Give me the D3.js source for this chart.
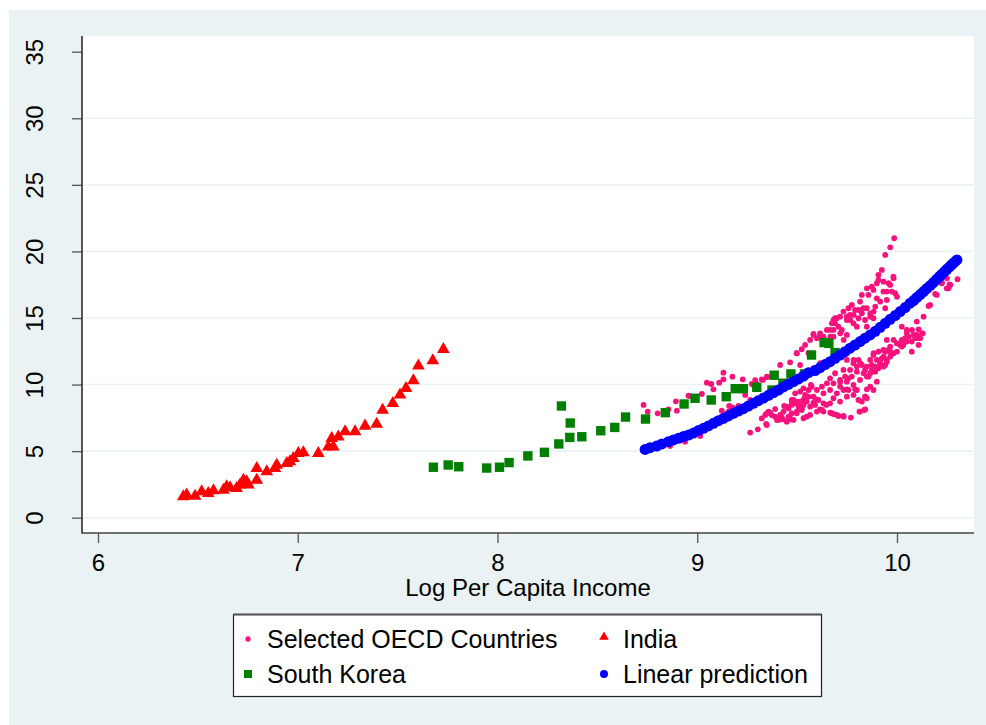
<!DOCTYPE html>
<html>
<head>
<meta charset="utf-8">
<script src="https://cdn.jsdelivr.net/npm/d3@7"></script>
<style>
  body { margin: 0; background: #ffffff; }
  text { font-family: "Liberation Sans", Arial, sans-serif; fill: #000; }
</style>
</head>
<body>
<div id="chart"></div>
<script>
////////////////////////////////////////////////////////////
//////////////////////// Data //////////////////////////////
////////////////////////////////////////////////////////////
var xTicks = [6, 7, 8, 9, 10],
yTicks = [0, 5, 10, 15, 20, 25, 30, 35],
xTitle = "Log Per Capita Income";

var seriesNames = ["Selected OECD Countries", "India", "South Korea", "Linear prediction"];

// [log per capita income, value]
var oecd = [
[8.731,8.47],[8.752,7.96],[8.802,7.84],[8.856,8.14],[8.893,8.74],[8.898,8.04],[8.956,9.17],[8.961,9.14],
[9.023,9.29],[9.048,10.14],[9.070,10.04],[9.081,9.64],[9.110,10.14],[9.131,10.89],[9.131,10.39],[9.176,10.59],
[9.228,10.39],[9.282,9.97],[9.298,10.05],[9.328,10.35],[9.349,10.60],[9.160,8.39],[9.176,8.29],[9.206,8.39],
[9.123,8.04],[9.165,7.64],[9.135,7.72],[9.157,7.97],[9.240,9.22],[9.265,8.84],[9.273,10.04],[9.290,10.34],
[9.323,10.39],[9.348,10.54],[9.373,10.59],[9.415,11.47],[9.465,11.67],[9.498,12.35],[9.515,11.47],[9.523,12.65],
[9.557,12.35],[8.864,5.39],[8.873,5.64],[8.939,5.71],[9.015,6.14],[9.265,6.39],[9.303,6.64],[9.348,6.96],
[9.345,7.04],[9.390,8.16],[9.423,7.54],[9.407,7.34],[9.448,7.21],[9.465,7.46],[9.490,8.59],[9.507,8.34],
[9.523,8.09],[9.540,9.09],[9.498,7.84],[9.548,7.59],[9.435,8.39],[9.473,8.84],[9.532,9.72],[9.373,7.71],
[9.357,7.96],[9.340,7.72],[9.365,7.89],[9.399,7.34],[9.415,7.72],[9.429,7.39],[9.449,8.34],[9.457,7.59],
[9.474,8.64],[9.482,7.34],[9.499,8.72],[9.512,8.34],[9.524,8.22],[9.532,8.84],[9.540,9.22],[9.557,9.09],
[9.515,9.47],[9.569,9.97],[9.582,8.64],[9.595,8.89],[9.615,8.14],[9.632,7.97],[9.646,8.47],[9.666,7.89],
[9.682,7.79],[9.707,7.64],[9.733,7.59],[9.769,7.52],[9.812,7.97],[9.841,8.14],[9.824,8.72],[9.841,9.09],
[9.849,9.64],[9.749,9.64],[9.791,9.64],[9.716,10.22],[9.757,10.47],[9.799,10.97],[9.833,10.85],[9.858,10.60],
[9.874,11.10],[9.891,11.35],[9.916,11.60],[9.933,12.10],[9.949,11.85],[9.966,12.47],[9.983,12.35],[10.000,12.47],
[10.016,12.97],[10.024,13.35],[10.049,13.85],[10.041,13.48],[10.075,14.10],[10.083,13.73],[10.108,13.48],[10.125,13.85],
[10.133,15.10],[10.166,15.98],[10.191,16.81],[10.225,17.66],[10.250,17.98],[10.267,17.48],[10.303,17.91],[10.241,18.24],
[10.258,17.23],[9.515,10.47],[9.548,10.85],[9.582,11.22],[9.615,11.60],[9.582,13.73],[9.615,13.60],[9.682,14.85],
[9.699,14.98],[9.690,14.60],[9.749,15.10],[9.766,14.85],[9.783,15.23],[9.808,15.60],[9.824,15.35],[9.849,15.73],
[9.866,15.10],[9.849,17.23],[9.874,17.36],[9.907,17.86],[9.924,18.61],[9.941,19.74],[9.966,20.31],[9.986,20.99],
[9.933,17.73],[9.958,17.61],[9.983,17.98],[9.974,16.98],[9.991,16.86],[9.949,16.98],[9.916,16.23],[9.891,15.86],
[9.899,16.48],[9.941,15.73],[9.883,15.48],[9.682,14.10],[9.716,13.85],[9.666,13.60],[9.733,13.35],[9.749,11.85],
[9.783,11.85],[9.816,11.60],[9.849,11.35],[9.799,11.35],[9.883,12.35],[9.899,11.85],[9.949,13.35],[9.966,12.85],
[9.941,12.47],[9.983,13.35],[10.000,13.10],[9.933,11.35],[9.907,18.23],[9.982,18.11],[9.966,17.48],[10.000,16.60],
[9.857,16.73],[9.832,15.73],[9.866,15.35],[9.790,15.60],[9.765,15.23],[9.807,14.98],[9.749,14.85],[9.782,14.60],
[9.690,14.98],[9.707,14.35],[9.665,14.10],[9.674,14.60],[9.582,13.80],[9.599,13.48],[9.632,13.60],[9.498,12.35],
[10.049,14.10],[10.091,13.48],[10.116,13.48],[10.129,13.85],[10.099,14.73],[10.158,15.90],[10.199,16.73],[10.249,17.23],
[10.263,17.53],[10.224,17.61],[10.074,12.47],[10.032,12.97],[9.999,13.10],[9.957,12.60],[9.924,11.97],[9.941,11.47],
[9.874,11.47],[9.907,11.22],[9.840,11.10],[9.849,10.60],[9.815,10.35],[9.774,10.60],[9.782,9.97],[9.732,11.10],
[9.749,10.22],[9.715,9.85],[9.682,10.09],[9.699,9.34],[9.665,9.59],[9.632,9.34],[9.607,8.84],[9.582,9.09],
[9.557,9.59],[9.490,9.34],[9.482,8.84],[9.565,8.34],[9.632,8.59],[9.682,8.97],[9.732,9.59],[9.749,9.09],
[9.799,9.59],[9.866,9.84],[9.840,9.09],[9.836,8.09],[9.815,7.97],[9.674,7.84],[9.699,7.72],[9.732,7.64],
[9.624,8.09],[9.590,8.47],[9.465,7.39],[9.532,7.47],[10.024,12.85],[10.108,12.98],[10.108,14.15],
[10.024,14.35],[10.058,13.60],[10.074,13.23],[10.099,13.73],[10.049,13.23],[9.932,12.60],[9.966,12.10],[9.907,12.47],
[9.882,12.22],[9.866,11.85],[9.949,11.72],[9.916,11.47],[9.891,10.97],[9.866,10.85],[9.824,11.47],[9.807,11.85],
[9.782,11.60],[9.765,11.10],[9.740,10.60],[9.715,10.35],[9.690,10.85],[9.665,10.47],[9.649,10.09],[9.624,9.84],
[9.599,9.59],[9.573,9.84],[9.757,9.59],[9.782,9.22],[9.807,8.84],[9.849,8.97],[9.882,9.59],[9.899,10.22],
[9.665,8.59],[9.715,8.72],[9.599,7.97],[9.565,7.72],[9.498,7.97],[9.473,8.47],
[9.715,15.10],[9.732,15.48],[9.757,15.73],[9.774,15.98],[9.815,16.23],[9.824,16.73],[9.882,17.11],[9.899,17.61],
[9.932,16.98],[9.949,16.36],[9.649,14.10],[9.615,13.85],[9.565,13.35],[9.540,12.98],[9.682,13.60],[9.724,14.10],
[9.799,14.35],[9.840,14.85],[9.882,14.98],[9.849,14.35],[9.749,13.73],
[9.390,7.59],[9.432,7.96],[9.457,8.21],[9.473,7.84],[9.515,8.72],[9.532,8.47],[9.548,8.72],[9.323,7.46],[9.348,7.84]
];

var india = [
[6.427,1.58],[6.444,1.71],[6.486,1.63],[6.519,1.96],[6.552,1.83],[6.578,2.03],[6.628,2.08],[6.644,2.33],
[6.661,2.26],[6.694,2.21],[6.711,2.46],[6.728,2.83],[6.744,2.71],[6.753,2.46],[6.795,3.71],[6.795,2.83],
[6.845,3.46],[6.895,3.96],[6.886,3.71],[6.945,4.08],[6.961,4.21],[6.978,4.46],[7.003,4.84],[7.028,4.89],
[7.103,4.84],[7.153,5.33],[7.170,5.96],[7.178,5.33],[7.203,6.08],[7.237,6.46],[7.287,6.46],[7.337,6.89],
[7.395,7.04],[7.425,8.09],[7.476,8.59],[7.512,9.22],[7.542,9.72],[7.579,10.29],[7.604,11.40],[7.676,11.80],
[7.729,12.65]
];

var korea = [
[7.679,3.79],[7.753,3.96],[7.806,3.83],[7.946,3.73],[8.010,3.79],[8.058,4.14],[8.152,4.64],[8.235,4.91],
[8.307,5.54],[8.320,8.39],[8.364,7.11],[8.362,6.03],[8.422,6.08],[8.517,6.53],[8.587,6.78],[8.641,7.56],
[8.741,7.41],[8.840,7.89],[8.934,8.54],[8.989,8.97],[9.070,8.84],[9.145,9.09],[9.190,9.69],[9.231,9.69],
[9.298,9.79],[9.374,9.59],[9.385,10.70],[9.429,10.10],[9.469,10.80],[9.537,10.80],[9.572,12.22],[9.635,13.15],
[9.659,13.10],[9.690,12.40]
];

var prediction = [
[8.739,5.13],[8.764,5.26],[8.797,5.38],[8.823,5.54],[8.856,5.71],[8.881,5.84],[8.906,5.96],[8.931,6.09],
[8.956,6.21],[8.981,6.36],[9.006,6.54],[9.031,6.71],[9.056,6.89],[9.081,7.09],[9.106,7.29],[9.131,7.46],
[9.156,7.64],[9.181,7.84],[9.206,8.01],[9.231,8.19],[9.256,8.39],[9.281,8.59],[9.306,8.79],[9.332,8.99],
[9.357,9.19],[9.382,9.39],[9.407,9.59],[9.432,9.82],[9.457,10.02],[9.482,10.22],[9.507,10.42],[9.532,10.64],
[9.557,10.89],[9.590,11.05],[9.615,11.27],[9.640,11.50],[9.665,11.72],[9.690,11.97],[9.715,12.22],[9.740,12.47],
[9.765,12.73],[9.790,12.97],[9.815,13.23],[9.840,13.48],[9.866,13.73],[9.891,14.00],[9.916,14.30],[9.941,14.60],
[9.966,14.90],[9.991,15.18],[10.016,15.48],[10.041,15.78],[10.066,16.11],[10.083,16.31],[10.099,16.53],[10.116,16.76],
[10.133,16.98],[10.149,17.21],[10.166,17.43],[10.182,17.66],[10.199,17.91],[10.212,18.11],[10.224,18.28],[10.238,18.48],
[10.250,18.66],[10.263,18.84],[10.274,19.01],[10.288,19.19],[10.300,19.36]
];

////////////////////////////////////////////////////////////
//////////////////////// Setup /////////////////////////////
////////////////////////////////////////////////////////////
var W = 986, H = 725,
plot = {left: 82, top: 36, right: 974, bottom: 533};

var colors = {oecd: "#f7127c", india: "#ff0000", korea: "#007f00", pred: "#0000ff", bg: "#eaf2f3"};

var x = d3.scaleLinear().domain([6, 10]).range([98, 897]);
var y = d3.scaleLinear().domain([0, 35]).range([517.7, 51.7]);

var svg = d3.select("#chart").append("svg")
.attr("width", W)
.attr("height", H);

svg.append("rect")
.attr("x", 9).attr("y", 10)
.attr("width", W - 9).attr("height", H - 10)
.attr("fill", colors.bg);

svg.append("rect")
.attr("x", plot.left).attr("y", plot.top)
.attr("width", plot.right - plot.left).attr("height", plot.bottom - plot.top)
.attr("fill", "#fff");

// grid
svg.append("g").selectAll("line")
.data(yTicks.filter(function(d){ return d < 35; }))
.enter().append("line")
.attr("x1", plot.left).attr("x2", plot.right)
.attr("y1", function(d){ return y(d); })
.attr("y2", function(d){ return y(d); })
.attr("stroke", colors.bg)
.attr("stroke-width", 1.6);

////////////////////////////////////////////////////////////
//////////////////////// Axes //////////////////////////////
////////////////////////////////////////////////////////////
var yAxis = svg.append("g")
.attr("transform", "translate(" + plot.left + ",0)")
.call(d3.axisLeft(y).tickValues(yTicks).tickSize(10).tickSizeOuter(0));
yAxis.select(".domain").remove();
yAxis.selectAll(".tick line").attr("stroke", "#555").attr("stroke-width", 1.3);
yAxis.selectAll(".tick text")
.attr("transform", "rotate(-90)")
.attr("x", 0).attr("y", -39).attr("dy", 0)
.attr("text-anchor", "middle")
.style("font-size", "24px")
.style("font-family", "'Liberation Sans', Arial, sans-serif")
.attr("fill", "#000");

var xAxis = svg.append("g")
.attr("transform", "translate(0," + plot.bottom + ")")
.call(d3.axisBottom(x).tickValues(xTicks).tickSize(10).tickSizeOuter(0).tickFormat(d3.format("d")));
xAxis.select(".domain").remove();
xAxis.selectAll(".tick line").attr("stroke", "#555").attr("stroke-width", 1.3);
xAxis.selectAll(".tick text")
.attr("y", 38).attr("dy", 0)
.style("font-size", "24px")
.style("font-family", "'Liberation Sans', Arial, sans-serif")
.attr("fill", "#000");

svg.append("line")
.attr("x1", plot.left).attr("x2", plot.left)
.attr("y1", plot.top).attr("y2", plot.bottom + 0.5)
.attr("stroke", "#222").attr("stroke-width", 1.5);
svg.append("line")
.attr("x1", plot.left).attr("x2", plot.right)
.attr("y1", plot.bottom).attr("y2", plot.bottom)
.attr("stroke", "#444").attr("stroke-width", 1.5);

svg.append("text")
.attr("x", (plot.left + plot.right) / 2)
.attr("y", 596)
.attr("text-anchor", "middle")
.style("font-size", "24px")
.text(xTitle);

////////////////////////////////////////////////////////////
//////////////////////// Marks /////////////////////////////
////////////////////////////////////////////////////////////
svg.append("g").selectAll("circle")
.data(oecd)
.enter().append("circle")
.attr("cx", function(d){ return x(d[0]); })
.attr("cy", function(d){ return y(d[1]); })
.attr("r", 2.9)
.attr("fill", colors.oecd);

var tri = d3.symbol().type(d3.symbolTriangle).size(70);
svg.append("g").selectAll("path")
.data(india)
.enter().append("path")
.attr("d", tri)
.attr("transform", function(d){ return "translate(" + x(d[0]) + "," + y(d[1]) + ")"; })
.attr("fill", colors.india);

var sq = d3.symbol().type(d3.symbolSquare).size(88);
svg.append("g").selectAll("path")
.data(korea)
.enter().append("path")
.attr("d", sq)
.attr("transform", function(d){ return "translate(" + x(d[0]) + "," + y(d[1]) + ")"; })
.attr("fill", colors.korea);

svg.append("g").selectAll("circle")
.data(prediction)
.enter().append("circle")
.attr("cx", function(d){ return x(d[0]); })
.attr("cy", function(d){ return y(d[1]); })
.attr("r", 5.5)
.attr("fill", colors.pred);

////////////////////////////////////////////////////////////
//////////////////////// Legend ////////////////////////////
////////////////////////////////////////////////////////////
svg.append("rect")
.attr("x", 233.5).attr("y", 614.5)
.attr("width", 588).attr("height", 82)
.attr("fill", "#fff")
.attr("stroke", "#222").attr("stroke-width", 1.2);
svg.append("line")
.attr("x1", 233.5).attr("x2", 821.5)
.attr("y1", 614.5).attr("y2", 614.5)
.attr("stroke", "#555").attr("stroke-width", 2);

var legendPos = [
{x: 248, y: 639, t: 648},
{x: 604, y: 639, t: 648},
{x: 248, y: 674, t: 683},
{x: 604, y: 674, t: 683}
];
var legendSymbols = [
d3.symbol().type(d3.symbolCircle).size(22),
d3.symbol().type(d3.symbolTriangle).size(40),
d3.symbol().type(d3.symbolSquare).size(64),
d3.symbol().type(d3.symbolCircle).size(50)
];
var legendColors = [colors.oecd, colors.india, colors.korea, colors.pred];

var items = svg.append("g").selectAll("g")
.data(seriesNames)
.enter().append("g");

items.append("path")
.attr("d", function(d,i){ return legendSymbols[i](); })
.attr("transform", function(d,i){ return "translate(" + legendPos[i].x + "," + (legendPos[i].y - (i==1 ? 2 : 0)) + ")"; })
.attr("fill", function(d,i){ return legendColors[i]; });

items.append("text")
.attr("x", function(d,i){ return legendPos[i].x + 19; })
.attr("y", function(d,i){ return legendPos[i].t; })
.style("font-size", "25px")
.text(function(d){ return d; });
</script>
</body>
</html>
